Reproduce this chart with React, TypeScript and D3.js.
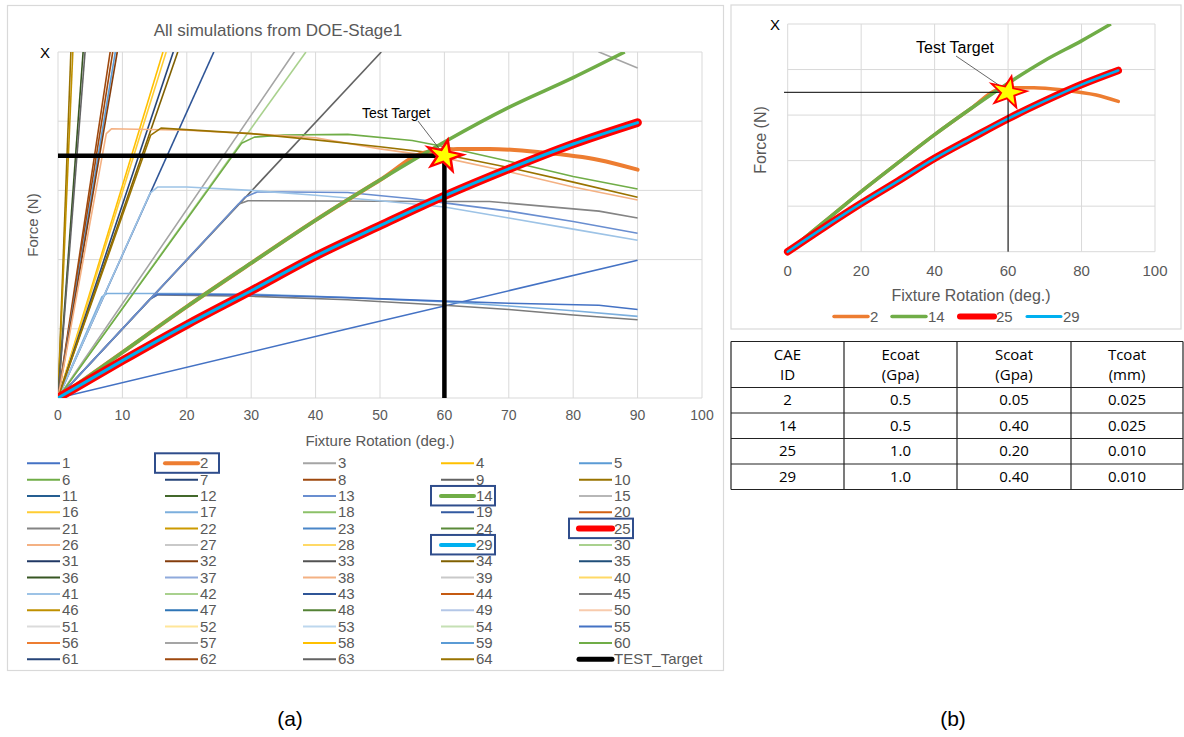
import React, { useEffect, useRef } from 'react';
import * as d3 from 'd3';

type Pt = [number, number];

// x = Fixture Rotation (deg.), y = force in gridline units (axis has no labels)
const xTicks = [0, 10, 20, 30, 40, 50, 60, 70, 80, 90, 100];
const xTicksRight = [0, 20, 40, 60, 80, 100];
const yGrid = [0, 1, 2, 3, 4, 5];
const target: Pt = [60, 3.5];

const curve2: Pt[] = [[0, 0], [10, 0.66], [20, 1.32], [30, 1.95], [40, 2.57], [50, 3.15], [57, 3.55], [62, 3.6], [67, 3.6], [75, 3.55], [84, 3.44], [90, 3.3]];
const curve14: Pt[] = [[0, 0], [10, 0.66], [20, 1.32], [30, 1.95], [40, 2.57], [50, 3.15], [60, 3.7], [70, 4.2], [80, 4.63], [88, 5.0]];
const curve25: Pt[] = [[0, 0], [10, 0.54], [20, 1.06], [30, 1.55], [40, 2.05], [50, 2.49], [60, 2.92], [70, 3.31], [80, 3.67], [90, 3.98]];

// thin simulation curves that show inside the plot
const thinCurves: { id: number; pts: Pt[] }[] = [
  { id: 10, pts: [[0, 0], [2.0, 5]] },
  { id: 46, pts: [[0, 0], [2.3, 5]] },
  { id: 36, pts: [[0, 0], [3.9, 5]] },
  { id: 9, pts: [[0, 0], [4.2, 5]] },
  { id: 8, pts: [[0, 0], [8.1, 5]] },
  { id: 62, pts: [[0, 0], [8.5, 5]] },
  { id: 59, pts: [[0, 0], [8.9, 5]] },
  { id: 32, pts: [[0, 0], [9.2, 5]] },
  { id: 4, pts: [[0, 0], [16.3, 5]] },
  { id: 16, pts: [[0, 0], [16.8, 5]] },
  { id: 7, pts: [[0, 0], [17.9, 5]] },
  { id: 34, pts: [[0, 0], [18.6, 5]] },
  { id: 43, pts: [[0, 0], [24.2, 5]] },
  { id: 3, pts: [[0, 0], [36.7, 5], [45, 6.1], [60, 6.0], [80, 5.3], [84, 5.0], [90, 4.77]] },
  { id: 30, pts: [[0, 0], [38.5, 5]] },
  { id: 63, pts: [[0, 0], [50.2, 5]] },
  { id: 1, pts: [[0, 0], [45, 1.0], [90, 1.99]] },
  { id: 45, pts: [[0, 0], [14.3, 1.43], [15.5, 1.49], [30, 1.47], [45, 1.42], [60, 1.34], [70, 1.28], [80, 1.2], [90, 1.13]] },
  { id: 17, pts: [[0, 0], [6.8, 1.46], [7.6, 1.51], [20, 1.51], [30, 1.5], [40, 1.47], [50, 1.43], [60, 1.39], [70, 1.33], [80, 1.26], [90, 1.18]] },
  { id: 55, pts: [[0, 0], [14.3, 1.43], [15.5, 1.5], [30, 1.49], [45, 1.45], [60, 1.4], [70, 1.37], [84, 1.34], [90, 1.28]] },
  { id: 21, pts: [[0, 0], [28, 2.8], [29.5, 2.85], [60, 2.84], [67, 2.84], [84, 2.7], [90, 2.6]] },
  { id: 13, pts: [[0, 0], [29, 2.9], [31, 2.98], [45, 2.97], [55, 2.88], [60, 2.82], [70, 2.7], [80, 2.55], [90, 2.38]] },
  { id: 41, pts: [[0, 0], [14.3, 2.96], [15.5, 3.05], [20, 3.05], [30, 3.0], [40, 2.93], [50, 2.85], [60, 2.76], [70, 2.6], [80, 2.44], [90, 2.28]] },
  { id: 6, pts: [[0, 0], [28.5, 3.68], [30.5, 3.77], [35, 3.8], [45, 3.81], [55, 3.72], [60, 3.63], [70, 3.42], [80, 3.2], [90, 3.02]] },
  { id: 26, pts: [[0, 0], [7.5, 3.82], [8.3, 3.89], [20, 3.87], [30, 3.82], [40, 3.76], [50, 3.6], [60, 3.47], [70, 3.27], [80, 3.05], [90, 2.86]] },
  { id: 64, pts: [[0, 0], [14.4, 3.8], [16, 3.9], [30, 3.82], [40, 3.73], [50, 3.63], [60, 3.52], [70, 3.33], [80, 3.12], [90, 2.9]] },
];

const seriesColors = [
  '#4472C4', '#ED7D31', '#A5A5A5', '#FFC000', '#5B9BD5', '#70AD47', '#264478', '#9E480E', '#636363', '#997300',
  '#255E91', '#43682B', '#698ED0', '#70AD47', '#B7B7B7', '#FFCD33', '#7CAFDD', '#8CC168', '#335AA1', '#D26012',
  '#848484', '#CC9A00', '#4A86C8', '#5A8A39', '#FF0000', '#F4B183', '#C9C9C9', '#FFD966', '#00B0F0', '#A9D18E',
  '#203864', '#843C0C', '#525252', '#806000', '#1F4E79', '#375623', '#8FAADC', '#F4B183', '#C9C9C9', '#FFD966',
  '#9DC3E6', '#A9D18E', '#2F5597', '#C55A11', '#7B7B7B', '#BF9000', '#2E75B6', '#548235', '#B4C7E7', '#F8CBAD',
  '#DBDBDB', '#FFE699', '#BDD7EE', '#C5E0B4', '#4472C4', '#ED7D31', '#A5A5A5', '#FFC000', '#5B9BD5', '#70AD47',
  '#264478', '#9E480E', '#636363', '#997300',
];
const highlighted = [2, 14, 25, 29];

const tableHeader = [['CAE', 'ID'], ['Ecoat', '(Gpa)'], ['Scoat', '(Gpa)'], ['Tcoat', '(mm)']];
const tableRows = [
  ['2', '0.5', '0.05', '0.025'],
  ['14', '0.5', '0.40', '0.025'],
  ['25', '1.0', '0.20', '0.010'],
  ['29', '1.0', '0.40', '0.010'],
];

const FONT = '"Liberation Sans", Arial, sans-serif';
const NARROW = '"Liberation Sans Narrow", "Liberation Sans", Arial, sans-serif';
const GRID = '#D9D9D9';
const TXT = '#595959';

export default function App() {
  const svgRef = useRef<SVGSVGElement>(null);

  useEffect(() => {
    const svg = d3.select(svgRef.current);
    svg.selectAll('*').remove();
    svg.append('rect').attr('width', 1184).attr('height', 737).attr('fill', '#fff');

    const starPath = d3.symbol().type(d3.symbolStar).size(360)();

    // ---------- panel (a) ----------
    svg.append('rect').attr('x', 7.5).attr('y', 5.5).attr('width', 716).attr('height', 665)
      .attr('fill', 'none').attr('stroke', GRID).attr('stroke-width', 1.2);

    const x = d3.scaleLinear().domain([0, 100]).range([58, 702]);
    const y = d3.scaleLinear().domain([0, 5]).range([398, 52]);

    svg.append('clipPath').attr('id', 'clipA').append('rect')
      .attr('x', x(0)).attr('y', y(5)).attr('width', x(100) - x(0)).attr('height', y(0) - y(5));

    const a = svg.append('g');
    a.selectAll('.vg').data(xTicks).enter().append('line')
      .attr('x1', d => x(d)).attr('x2', d => x(d)).attr('y1', y(0)).attr('y2', y(5))
      .attr('stroke', GRID).attr('stroke-width', 1);
    a.selectAll('.hg').data(yGrid).enter().append('line')
      .attr('x1', x(0)).attr('x2', x(100)).attr('y1', d => y(d)).attr('y2', d => y(d))
      .attr('stroke', GRID).attr('stroke-width', 1);

    a.selectAll('.xt').data(xTicks).enter().append('text')
      .attr('x', d => x(d)).attr('y', 420).attr('text-anchor', 'middle')
      .attr('font-family', FONT).attr('font-size', 14).attr('fill', TXT).text(d => d);

    a.append('text').attr('x', 380).attr('y', 446).attr('text-anchor', 'middle')
      .attr('font-family', FONT).attr('font-size', 15).attr('fill', TXT).text('Fixture Rotation (deg.)');
    a.append('text').attr('transform', `translate(38,${225}) rotate(-90)`).attr('text-anchor', 'middle')
      .attr('font-family', FONT).attr('font-size', 15).attr('fill', TXT).text('Force (N)');
    a.append('text').attr('x', 278).attr('y', 36).attr('text-anchor', 'middle')
      .attr('font-family', NARROW).attr('font-size', 17).attr('fill', TXT).text('All simulations  from DOE-Stage1');
    a.append('text').attr('x', 45).attr('y', 58).attr('text-anchor', 'middle')
      .attr('font-family', FONT).attr('font-size', 15).attr('fill', '#000').text('X');

    const line = d3.line<Pt>().x(d => x(d[0])).y(d => y(d[1])).curve(d3.curveMonotoneX);
    const thinLine = d3.line<Pt>().x(d => x(d[0])).y(d => y(d[1]));
    const plot = a.append('g').attr('clip-path', 'url(#clipA)');

    thinCurves.forEach(c => {
      plot.append('path').datum(c.pts).attr('d', thinLine).attr('fill', 'none')
        .attr('stroke', seriesColors[c.id - 1]).attr('stroke-width', 1.6).attr('stroke-linejoin', 'round');
    });
    plot.append('path').datum(curve2).attr('d', line).attr('fill', 'none')
      .attr('stroke', '#ED7D31').attr('stroke-width', 4).attr('stroke-linecap', 'round');
    plot.append('path').datum(curve14).attr('d', line).attr('fill', 'none')
      .attr('stroke', '#70AD47').attr('stroke-width', 3.5);
    plot.append('path').datum(curve25).attr('d', line).attr('fill', 'none')
      .attr('stroke', '#FF0000').attr('stroke-width', 8.5).attr('stroke-linecap', 'round');
    plot.append('path').datum(curve25).attr('d', line).attr('fill', 'none')
      .attr('stroke', '#00B0F0').attr('stroke-width', 3).attr('stroke-linecap', 'round');

    // TEST_Target
    a.append('path').datum([[0, target[1]], target, [target[0], 0]] as Pt[]).attr('d', thinLine)
      .attr('fill', 'none').attr('stroke', '#000').attr('stroke-width', 4.5);
    a.append('line').attr('x1', 418).attr('y1', 121).attr('x2', x(target[0]) - 2).attr('y2', y(target[1]) - 3)
      .attr('stroke', '#404040').attr('stroke-width', 0.8);
    a.append('path').attr('d', starPath)
      .attr('transform', `translate(${x(target[0])},${y(target[1])}) rotate(12) scale(1.05,0.9)`)
      .attr('fill', '#FFFF00').attr('stroke', '#FF0000').attr('stroke-width', 2.5);
    a.append('text').attr('x', 396).attr('y', 118).attr('text-anchor', 'middle')
      .attr('font-family', NARROW).attr('font-size', 14).attr('fill', '#000').text('Test Target');

    // legend
    const cols = [27, 165, 303, 441, 579];
    const legY = (i: number) => 463.3 + i * 16.33;
    const leg = svg.append('g');
    const ids = d3.range(1, 65);
    ids.forEach(id => {
      const i = id - 1;
      const cx = cols[i % 5];
      const cy = legY(Math.floor(i / 5));
      const w = id === 25 ? 6 : highlighted.includes(id) ? 4 : 2;
      leg.append('line').attr('x1', cx).attr('x2', cx + 33).attr('y1', cy).attr('y2', cy)
        .attr('stroke', seriesColors[i]).attr('stroke-width', w).attr('stroke-linecap', highlighted.includes(id) ? 'round' : 'butt');
      leg.append('text').attr('x', cx + 35).attr('y', cy + 5)
        .attr('font-family', NARROW).attr('font-size', 15).attr('fill', TXT).text(id);
      if (highlighted.includes(id)) {
        leg.append('rect').attr('x', cx - 10).attr('y', cy - 10).attr('width', 64).attr('height', 19.5)
          .attr('fill', 'none').attr('stroke', '#2F4D8C').attr('stroke-width', 2);
      }
    });
    const tY = legY(12);
    leg.append('line').attr('x1', 579).attr('x2', 612).attr('y1', tY).attr('y2', tY)
      .attr('stroke', '#000').attr('stroke-width', 5).attr('stroke-linecap', 'round');
    leg.append('text').attr('x', 614).attr('y', tY + 5)
      .attr('font-family', NARROW).attr('font-size', 15).attr('fill', TXT).text('TEST_Target');

    // ---------- panel (b) ----------
    svg.append('rect').attr('x', 731).attr('y', 5).attr('width', 450).attr('height', 324)
      .attr('fill', 'none').attr('stroke', GRID).attr('stroke-width', 1.2);

    const x2 = d3.scaleLinear().domain([0, 100]).range([787.7, 1155]);
    const y2 = d3.scaleLinear().domain([0, 5]).range([251.7, 24]);
    svg.append('clipPath').attr('id', 'clipB').append('rect')
      .attr('x', x2(0) - 5).attr('y', y2(5)).attr('width', x2(100) - x2(0) + 5).attr('height', y2(0) - y2(5) + 5);

    const b = svg.append('g');
    b.selectAll('.vg').data(xTicksRight).enter().append('line')
      .attr('x1', d => x2(d)).attr('x2', d => x2(d)).attr('y1', y2(0)).attr('y2', y2(5))
      .attr('stroke', GRID).attr('stroke-width', 1);
    b.selectAll('.hg').data(yGrid).enter().append('line')
      .attr('x1', x2(0)).attr('x2', x2(100)).attr('y1', d => y2(d)).attr('y2', d => y2(d))
      .attr('stroke', GRID).attr('stroke-width', 1);
    b.selectAll('.xt').data(xTicksRight).enter().append('text')
      .attr('x', d => x2(d)).attr('y', 276).attr('text-anchor', 'middle')
      .attr('font-family', FONT).attr('font-size', 15).attr('fill', TXT).text(d => d);
    b.append('text').attr('x', 971).attr('y', 301).attr('text-anchor', 'middle')
      .attr('font-family', FONT).attr('font-size', 16).attr('fill', TXT).text('Fixture Rotation (deg.)');
    b.append('text').attr('transform', `translate(766,${140}) rotate(-90)`).attr('text-anchor', 'middle')
      .attr('font-family', FONT).attr('font-size', 16).attr('fill', TXT).text('Force (N)');
    b.append('text').attr('x', 775).attr('y', 30).attr('text-anchor', 'middle')
      .attr('font-family', FONT).attr('font-size', 15).attr('fill', '#000').text('X');

    const line2 = d3.line<Pt>().x(d => x2(d[0])).y(d => y2(d[1])).curve(d3.curveMonotoneX);
    const plot2 = b.append('g').attr('clip-path', 'url(#clipB)');
    plot2.append('path').datum(curve2).attr('d', line2).attr('fill', 'none')
      .attr('stroke', '#ED7D31').attr('stroke-width', 3.5).attr('stroke-linecap', 'round');
    plot2.append('path').datum(curve14).attr('d', line2).attr('fill', 'none')
      .attr('stroke', '#70AD47').attr('stroke-width', 3.5);
    plot2.append('path').datum(curve25).attr('d', line2).attr('fill', 'none')
      .attr('stroke', '#FF0000').attr('stroke-width', 7.5).attr('stroke-linecap', 'round');
    plot2.append('path').datum(curve25).attr('d', line2).attr('fill', 'none')
      .attr('stroke', '#00B0F0').attr('stroke-width', 2.5).attr('stroke-linecap', 'round');

    const tline2 = d3.line<Pt>().x(d => x2(d[0])).y(d => y2(d[1]));
    b.append('path').datum([[-1, target[1]], target, [target[0], 0]] as Pt[]).attr('d', tline2)
      .attr('fill', 'none').attr('stroke', '#000').attr('stroke-width', 1);
    b.append('line').attr('x1', 956).attr('y1', 56).attr('x2', x2(target[0]) - 3).attr('y2', y2(target[1]) - 3)
      .attr('stroke', '#404040').attr('stroke-width', 0.8);
    b.append('path').attr('d', starPath)
      .attr('transform', `translate(${x2(target[0])},${y2(target[1])}) rotate(12) scale(1.05,0.9)`)
      .attr('fill', '#FFFF00').attr('stroke', '#FF0000').attr('stroke-width', 2);
    b.append('text').attr('x', 955).attr('y', 53).attr('text-anchor', 'middle')
      .attr('font-family', NARROW).attr('font-size', 16).attr('fill', '#000').text('Test Target');

    const leg2 = [
      { id: 2, x: 834, w: 3.5 },
      { id: 14, x: 892, w: 3.5 },
      { id: 25, x: 960, w: 6 },
      { id: 29, x: 1027, w: 3 },
    ];
    leg2.forEach(d => {
      b.append('line').attr('x1', d.x).attr('x2', d.x + 34).attr('y1', 316.5).attr('y2', 316.5)
        .attr('stroke', seriesColors[d.id - 1]).attr('stroke-width', d.w).attr('stroke-linecap', 'round');
      b.append('text').attr('x', d.x + 36).attr('y', 322)
        .attr('font-family', FONT).attr('font-size', 15).attr('fill', TXT).text(d.id);
    });

    // ---------- table ----------
    const colX = [731, 844, 957, 1071, 1183];
    const rowY = [341.5, 387.5, 413, 438.5, 464, 489.5];
    const t = svg.append('g');
    colX.forEach(cx => t.append('line').attr('x1', cx).attr('x2', cx).attr('y1', rowY[0]).attr('y2', rowY[5])
      .attr('stroke', '#222').attr('stroke-width', 1.2));
    rowY.forEach(ry => t.append('line').attr('x1', colX[0]).attr('x2', colX[4]).attr('y1', ry).attr('y2', ry)
      .attr('stroke', '#222').attr('stroke-width', 1.2));
    tableHeader.forEach((h, j) => {
      const cx = (colX[j] + colX[j + 1]) / 2;
      h.forEach((s, k) => t.append('text').attr('x', cx).attr('y', 360 + k * 20).attr('text-anchor', 'middle')
        .attr('font-family', '"Open Sans", sans-serif').attr('font-size', 15).attr('fill', '#000').text(s));
    });
    tableRows.forEach((r, i) => {
      r.forEach((s, j) => {
        const cx = (colX[j] + colX[j + 1]) / 2;
        t.append('text').attr('x', cx).attr('y', (rowY[i + 1] + rowY[i + 2]) / 2 + 5).attr('text-anchor', 'middle')
          .attr('font-family', '"Open Sans", sans-serif').attr('font-size', 15).attr('fill', '#000').text(s);
      });
    });

    // captions
    svg.append('text').attr('x', 290).attr('y', 726).attr('text-anchor', 'middle')
      .attr('font-family', FONT).attr('font-size', 21).attr('fill', '#000').text('(a)');
    svg.append('text').attr('x', 953).attr('y', 726).attr('text-anchor', 'middle')
      .attr('font-family', FONT).attr('font-size', 21).attr('fill', '#000').text('(b)');
  }, []);

  return (
    <svg ref={svgRef} width={1184} height={737}
      style={{ position: 'absolute', left: 0, top: 0, display: 'block' }} />
  );
}
